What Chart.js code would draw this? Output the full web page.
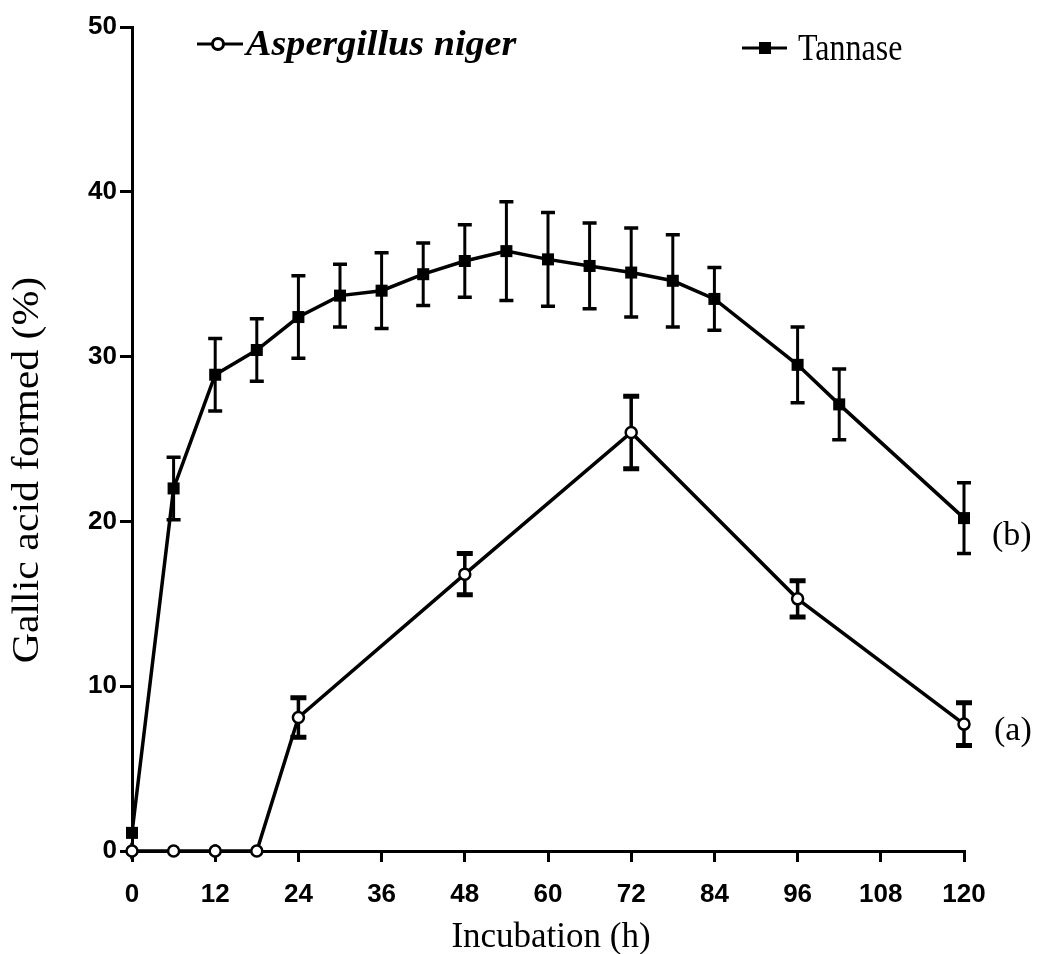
<!DOCTYPE html>
<html><head><meta charset="utf-8">
<script src="https://cdn.jsdelivr.net/npm/chart.js@4.4.1/dist/chart.umd.min.js"></script>
<style>html,body{margin:0;padding:0;background:#fff;}#wrap{width:1038px;height:954px;position:relative;}</style>
</head><body><div id="wrap"><canvas id="c"></canvas></div>
<script>
// ---- data ----
const hoursTannase = [0, 6, 12, 18, 24, 30, 36, 42, 48, 54, 60, 66, 72, 78, 84, 96, 102, 120];
const tannase      = [1.1, 22.0, 28.9, 30.4, 32.4, 33.7, 34.0, 35.0, 35.8, 36.4, 35.9, 35.5, 35.1, 34.6, 33.5, 29.5, 27.1, 20.2];
const tannaseErr   = [0, 1.9, 2.2, 1.9, 2.5, 1.9, 2.3, 1.9, 2.2, 3.0, 2.85, 2.6, 2.7, 2.8, 1.9, 2.3, 2.15, 2.15];
const hoursNiger   = [0, 6, 12, 18, 24, 48, 72, 96, 120];
const niger        = [0, 0, 0, 0, 8.1, 16.8, 25.4, 15.3, 7.7];
const nigerErr     = [0.5, 0, 0.4, 0, 1.2, 1.25, 2.2, 1.1, 1.3];
const xTicks = [0, 12, 24, 36, 48, 60, 72, 84, 96, 108, 120];
const yTicks = [0, 10, 20, 30, 40, 50];
const seriesNames = ['Aspergillus niger', 'Tannase'];
const curveLabels = ['(a)', '(b)'];
const xTitle = 'Incubation (h)';
const yTitle = 'Gallic acid formed (%)';

function drawText(ctx, text, x, y, font, opts) {
  opts = opts || {};
  ctx.save();
  ctx.translate(x, y);
  if (opts.rot) ctx.rotate(opts.rot);
  ctx.scale(opts.sx || 1, opts.sy || 1);
  ctx.font = font;
  ctx.fillStyle = '#000';
  ctx.textAlign = opts.align || 'left';
  ctx.textBaseline = 'alphabetic';
  ctx.fillText(text, 0, 0);
  ctx.restore();
}

const errorBars = {
  id: 'errorBars',
  beforeDatasetsDraw(chart) {
    const ctx = chart.ctx, xs = chart.scales.x, ys = chart.scales.y;
    const sets = [
      {h: hoursNiger, v: niger, e: nigerErr, lw: 3.5, cw: 8, clw: 5},
      {h: hoursTannase, v: tannase, e: tannaseErr, lw: 3, cw: 7, clw: 3.5}
    ];
    ctx.save();
    ctx.strokeStyle = '#000';
    sets.forEach(s => {
      s.h.forEach((hx, i) => {
        if (!s.e[i]) return;
        const px = xs.getPixelForValue(hx);
        const top = ys.getPixelForValue(s.v[i] + s.e[i]);
        const bot = ys.getPixelForValue(s.v[i] - s.e[i]);
        ctx.lineWidth = s.lw;
        ctx.beginPath(); ctx.moveTo(px, top); ctx.lineTo(px, bot); ctx.stroke();
        if (s.v[i] > 0) {
          ctx.lineWidth = s.clw;
          ctx.beginPath();
          ctx.moveTo(px - s.cw, top); ctx.lineTo(px + s.cw, top);
          ctx.moveTo(px - s.cw, bot); ctx.lineTo(px + s.cw, bot);
          ctx.stroke();
        }
      });
    });
    ctx.restore();
  }
};

const annotations = {
  id: 'annotations',
  afterDraw(chart) {
    const ctx = chart.ctx;
    // legend
    ctx.save();
    ctx.strokeStyle = '#000'; ctx.lineWidth = 3;
    ctx.beginPath(); ctx.moveTo(197, 44); ctx.lineTo(243, 44); ctx.stroke();
    ctx.fillStyle = '#fff';
    ctx.beginPath(); ctx.arc(218, 44, 5.5, 0, Math.PI * 2); ctx.fill(); ctx.stroke();
    ctx.beginPath(); ctx.moveTo(742, 48); ctx.lineTo(787, 48); ctx.stroke();
    ctx.fillStyle = '#000';
    ctx.fillRect(759, 42, 12, 12);
    ctx.restore();
    drawText(ctx, seriesNames[0], 246, 55, 'italic bold 36px "Liberation Serif"', {sx: 1.06});
    drawText(ctx, seriesNames[1], 798, 60, '32px "Liberation Serif"', {sy: 1.17});
    // curve labels
    drawText(ctx, curveLabels[0], 994, 740, '34px "Liberation Serif"');
    drawText(ctx, curveLabels[1], 992, 545, '34px "Liberation Serif"');
    // axis titles
    drawText(ctx, xTitle, 551, 947, '35px "Liberation Serif"', {align: 'center'});
    drawText(ctx, yTitle, 38, 470, '37px "Liberation Serif"', {align: 'center', rot: -Math.PI / 2, sx: 1.13});
  }
};

const tickFont = {family: 'Liberation Sans', size: 26, weight: 'bold'};
new Chart(document.getElementById('c'), {
  type: 'line',
  data: {
    datasets: [
      {
        label: seriesNames[0],
        data: hoursNiger.map((h, i) => ({x: h, y: niger[i]})),
        borderColor: '#000', borderWidth: 3.5,
        pointStyle: 'circle', pointRadius: 5.5, pointBorderWidth: 2.5,
        pointBackgroundColor: '#fff', pointBorderColor: '#000',
        tension: 0, clip: false, fill: false
      },
      {
        label: seriesNames[1],
        data: hoursTannase.map((h, i) => ({x: h, y: tannase[i]})),
        borderColor: '#000', borderWidth: 3.5,
        pointStyle: 'rect', pointRadius: 8.5, pointBorderWidth: 0,
        pointBackgroundColor: '#000', pointBorderColor: '#000',
        tension: 0, clip: false, fill: false
      }
    ]
  },
  options: {
    responsive: true, maintainAspectRatio: false, animation: false, events: [],
    layout: {padding: {top: 27, right: 74, left: 0, bottom: 0}},
    plugins: {legend: {display: false}, tooltip: {enabled: false}},
    scales: {
      x: {
        type: 'linear', min: 0, max: 120,
        afterBuildTicks: s => { s.ticks = xTicks.map(v => ({value: v})); },
        afterFit: s => { s.height = 103; },
        ticks: {font: tickFont, color: '#000', padding: 17, maxRotation: 0, autoSkip: false},
        grid: {display: true, drawOnChartArea: false, drawTicks: true, tickLength: 11, lineWidth: 3, color: '#000'},
        border: {display: true, color: '#000', width: 3}
      },
      y: {
        type: 'linear', min: 0, max: 50,
        afterBuildTicks: s => { s.ticks = yTicks.map(v => ({value: v})); },
        afterFit: s => { s.width = 132; },
        ticks: {font: tickFont, color: '#000', padding: 3, autoSkip: false},
        grid: {display: true, drawOnChartArea: false, drawTicks: true, tickLength: 12, lineWidth: 3, color: '#000'},
        border: {display: true, color: '#000', width: 3}
      }
    }
  },
  plugins: [errorBars, annotations]
});
</script>
</body></html>
